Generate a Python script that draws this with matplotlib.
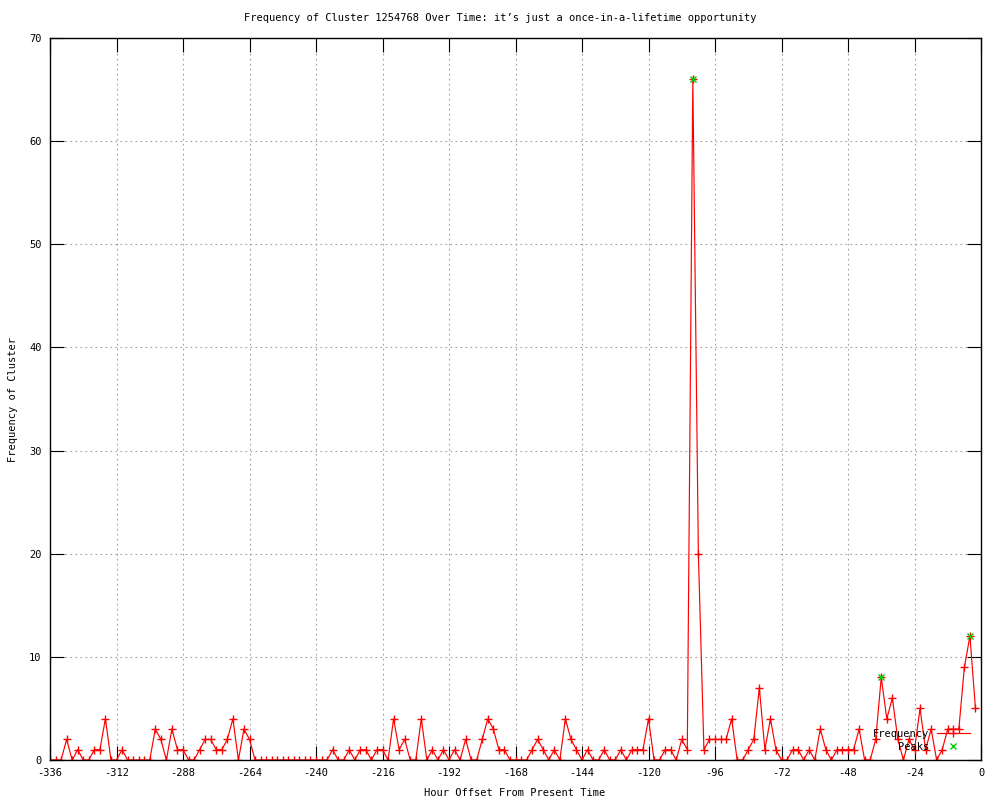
import matplotlib
matplotlib.use("Agg")
import matplotlib.pyplot as plt

plt.rcParams['font.family'] = ['DejaVu Sans Mono']
plt.rcParams['axes.unicode_minus'] = False

hours = list(range(-336, 0, 2))
frequency = [
    0, 0, 0, 2, 0, 1, 0, 0, 1, 1, 4, 0, 0, 1, 0, 0, 0, 0, 0, 3,
    2, 0, 3, 1, 1, 0, 0, 1, 2, 2, 1, 1, 2, 4, 0, 3, 2, 0, 0, 0,
    0, 0, 0, 0, 0, 0, 0, 0, 0, 0, 0, 1, 0, 0, 1, 0, 1, 1, 0, 1,
    1, 0, 4, 1, 2, 0, 0, 4, 0, 1, 0, 1, 0, 1, 0, 2, 0, 0, 2, 4,
    3, 1, 1, 0, 0, 0, 0, 1, 2, 1, 0, 1, 0, 4, 2, 1, 0, 1, 0, 0,
    1, 0, 0, 1, 0, 1, 1, 1, 4, 0, 0, 1, 1, 0, 2, 1, 66, 20, 1, 2,
    2, 2, 2, 4, 0, 0, 1, 2, 7, 1, 4, 1, 0, 0, 1, 1, 0, 1, 0, 3,
    1, 0, 1, 1, 1, 1, 3, 0, 0, 2, 8, 4, 6, 2, 0, 2, 1, 5, 1, 3,
    0, 1, 3, 3, 3, 9, 12, 5,
]
peak_hours = [-104, -36, -4]
peak_values = [66, 8, 12]

title = "Frequency of Cluster 1254768 Over Time: it\u2019s just a once-in-a-lifetime opportunity"
xlabel = "Hour Offset From Present Time"
ylabel = "Frequency of Cluster"
xticks = list(range(-336, 1, 24))
yticks = list(range(0, 71, 10))

FS = 7.5
fig = plt.figure(figsize=(10, 8), dpi=100)
ax = fig.add_axes([0.050, 0.050, 0.931, 0.9025])

ax.plot(hours, frequency, color='#ff0000', lw=0.85, marker='+', ms=6,
        mew=1.0, label='Frequency')
ax.plot(peak_hours, peak_values, color='#00cc00', lw=0, marker='x', ms=5,
        mew=1.0, label='Peaks')

ax.set_xlim(-336, 0)
ax.set_ylim(0, 70)
ax.set_xticks(xticks)
ax.set_yticks(yticks)
ax.tick_params(direction='in', length=10, width=0.8, top=True, right=True,
               labelsize=FS, pad=6)
ax.grid(True, color='#a0a0a0', lw=0.8, linestyle=(0, (1.5, 3)))
for s in ax.spines.values():
    s.set_linewidth(1.0)

fig.text(0.5, 1 - 18 / 800, title, ha='center', va='center', fontsize=FS)
fig.text(0.5149, 1 - 793 / 800, xlabel, ha='center', va='center', fontsize=FS)
fig.text(13 / 1000, 1 - 400 / 800, ylabel, ha='center', va='center',
         rotation=90, fontsize=FS)

ax.legend(loc='lower right', bbox_to_anchor=(0.970, 0.0605),
          bbox_transform=fig.transFigure, frameon=False, markerfirst=False,
          fontsize=FS, handlelength=3.2, handletextpad=0.7, labelspacing=0.25,
          borderpad=0, borderaxespad=0)

fig.savefig('out.png', dpi=100)
